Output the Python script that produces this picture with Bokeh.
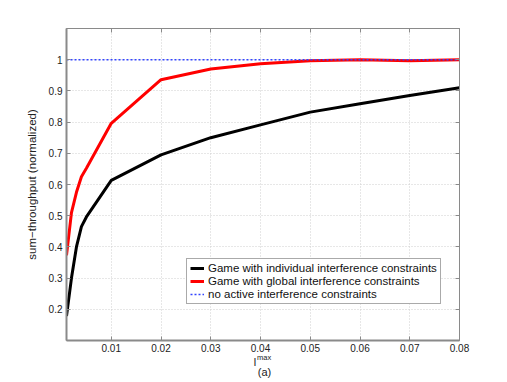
from bokeh.plotting import figure
from bokeh.models import Range1d, LinearAxis, FixedTicker, Legend, LegendItem, Label
from bokeh.embed import file_html
from bokeh.resources import INLINE

imax = [0.001, 0.002, 0.003, 0.004, 0.005, 0.01, 0.02, 0.03, 0.04, 0.05, 0.06, 0.07, 0.08]
individual = [0.178, 0.30, 0.40, 0.465, 0.496, 0.613, 0.695, 0.750, 0.791, 0.832, 0.859, 0.885, 0.910]
global_ = [0.373, 0.51, 0.575, 0.625, 0.652, 0.796, 0.936, 0.970, 0.987, 0.997, 1.000, 0.997, 1.000]
no_active = [1.0] * len(imax)

x_ticks = [0.01, 0.02, 0.03, 0.04, 0.05, 0.06, 0.07, 0.08]
y_ticks = [0.2, 0.3, 0.4, 0.5, 0.6, 0.7, 0.8, 0.9, 1.0]
y_tick_labels = {0.2: "0.2", 0.3: "0.3", 0.4: "0.4", 0.5: "0.5", 0.6: "0.6",
                 0.7: "0.7", 0.8: "0.8", 0.9: "0.9", 1.0: "1"}

FONT = "Liberation Sans"
AX = "#8a8a8a"

p = figure(width=500, height=382, output_backend="svg", toolbar_location=None,
           x_range=Range1d(0.001, 0.08), y_range=Range1d(0.1, 1.1),
           min_border_left=66, min_border_right=41, min_border_top=28, min_border_bottom=42,
           x_axis_location=None, y_axis_location=None)
p.outline_line_color = AX
p.outline_line_width = 1
p.background_fill_color = "white"
p.border_fill_color = "white"

def style_axis(ax, labels=True, width=1):
    ax.major_tick_in = 4
    ax.major_tick_out = 0
    ax.minor_tick_in = 0
    ax.minor_tick_out = 0
    ax.axis_line_color = AX
    ax.axis_line_width = width
    ax.major_tick_line_color = AX
    ax.major_label_text_font = FONT
    ax.major_label_text_font_size = "10px"
    ax.major_label_text_color = "#222222"
    ax.major_label_standoff = 4
    if not labels:
        ax.major_label_text_alpha = 0
        ax.major_label_text_font_size = "1px"

xb = LinearAxis(ticker=FixedTicker(ticks=x_ticks))
style_axis(xb, width=2)
xb.major_label_standoff = 3
p.add_layout(xb, "below")
xt = LinearAxis(ticker=FixedTicker(ticks=x_ticks))
style_axis(xt, labels=False)
p.add_layout(xt, "above")

yl = LinearAxis(ticker=FixedTicker(ticks=y_ticks),
                major_label_overrides=y_tick_labels,
                axis_label="sum\u2212throughput (normalized)")
style_axis(yl, width=2)
yl.axis_label_text_font = FONT
yl.axis_label_text_font_size = "11.5px"
yl.axis_label_text_font_style = "normal"
yl.axis_label_text_color = "#222222"
yl.axis_label_standoff = 8
p.add_layout(yl, "left")
yr = LinearAxis(ticker=FixedTicker(ticks=y_ticks))
style_axis(yr, labels=False)
p.add_layout(yr, "right")

# x-axis label "I^max" and caption "(a)", drawn in canvas coordinates
# (placed in side panels so that they are not clipped to the frame)
p.add_layout(Label(x=253, y=361, x_units="canvas", y_units="canvas", text="I",
                   text_font=FONT, text_font_size="10.5px", text_color="#222222",
                   text_baseline="alphabetic"), "right")
p.add_layout(Label(x=256.5, y=357, x_units="canvas", y_units="canvas", text="max",
                   text_font=FONT, text_font_size="7.5px", text_color="#222222",
                   text_baseline="alphabetic"), "right")
p.add_layout(Label(x=264, y=371, x_units="canvas", y_units="canvas", text="(a)",
                   text_font=FONT, text_font_size="11px", text_color="#222222",
                   text_align="center", text_baseline="alphabetic"), "left")

p.xgrid.ticker = FixedTicker(ticks=x_ticks)
p.ygrid.ticker = FixedTicker(ticks=y_ticks)
for g in (p.xgrid, p.ygrid):
    g.grid_line_color = "#cfcfcf"
    g.grid_line_dash = "1 2"
    g.grid_line_width = 1

r_ind = p.line(imax, individual, line_color="black", line_width=3)
r_glob = p.line(imax, global_, line_color="#ff0000", line_width=3)
r_no = p.line(imax, no_active, line_color="#3344ff", line_width=1.6, line_dash="2 2")

legend = Legend(items=[
    LegendItem(label="Game with individual interference constraints", renderers=[r_ind]),
    LegendItem(label="Game with global interference constraints", renderers=[r_glob]),
    LegendItem(label="no active interference constraints", renderers=[r_no]),
], location=(120, 36))
legend.label_text_font = FONT
legend.label_text_font_size = "11.5px"
legend.label_text_color = "#111111"
legend.label_height = 12
legend.glyph_height = 12
legend.glyph_width = 14
legend.label_standoff = 4
legend.spacing = 1
legend.padding = 3
legend.margin = 0
legend.border_line_color = "#555555"
legend.border_line_width = 1
legend.background_fill_alpha = 1
p.add_layout(legend, "center")

open("out.html", "w").write(file_html(p, INLINE))
